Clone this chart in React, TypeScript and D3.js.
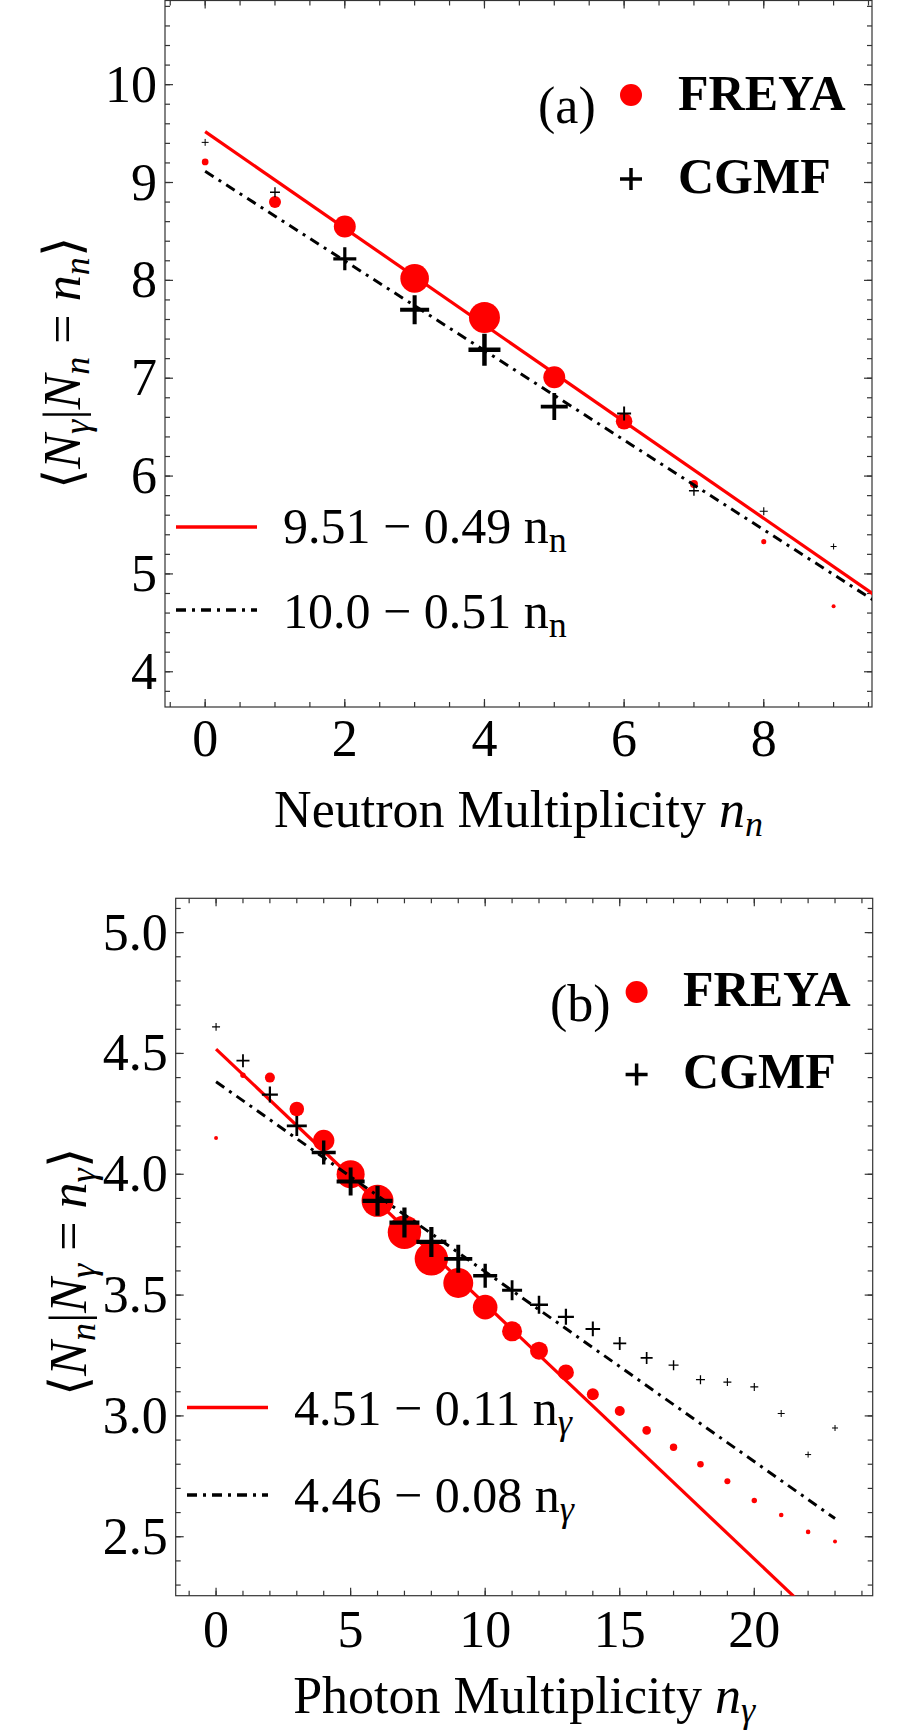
import React from "react";
import * as d3 from "d3";

// (a) mean photon multiplicity for events with a given neutron multiplicity
const neutronMult = [0, 1, 2, 3, 4, 5, 6, 7, 8, 9];
const freyaGammaGivenN = [9.21, 8.8, 8.55, 8.02, 7.62, 7.01, 6.56, 5.92, 5.33, 4.67];
const freyaNeutronProb = [1.4, 4.5, 15, 25.5, 30, 15, 8.6, 2, 0.8, 0.5];
const cgmfGammaGivenN = [9.41, 8.9, 8.22, 7.7, 7.29, 6.71, 6.64, 5.85, 5.64, 5.28];
const cgmfNeutronProb = [1.4, 2.9, 15.5, 24.7, 30, 21.4, 5.7, 2.9, 1.9, 1.05];

// (b) mean neutron multiplicity for events with a given photon multiplicity
const photonMult = [0, 1, 2, 3, 4, 5, 6, 7, 8, 9, 10, 11, 12, 13, 14, 15, 16, 17, 18, 19, 20, 21, 22, 23];
const freyaNGivenGamma = [
  4.15, 4.41, 4.4, 4.27, 4.14, 4.0, 3.89, 3.76, 3.65, 3.55, 3.45, 3.35,
  3.27, 3.18, 3.09, 3.02, 2.94, 2.87, 2.8, 2.73, 2.65, 2.59, 2.52, 2.48,
];
const freyaPhotonProb = [
  0.2, 0.37, 1.27, 2.7, 5.8, 10, 13, 14.2, 14.2, 11.4, 7.7, 5.1,
  4.1, 3.25, 1.83, 1.27, 0.94, 0.7, 0.55, 0.46, 0.37, 0.27, 0.27, 0.2,
];
const cgmfNGivenGamma = [
  4.61, 4.47, 4.33, 4.2, 4.09, 3.97, 3.89, 3.8, 3.72, 3.65, 3.58, 3.52,
  3.46, 3.41, 3.36, 3.3, 3.24, 3.21, 3.15, 3.14, 3.12, 3.01, 2.84, 2.95,
];
const cgmfPhotonProb = [
  1.0, 2.67, 4.04, 6.3, 9.1, 12.4, 14.2, 14.2, 14.2, 12.4, 9.1, 6.3,
  5.1, 4.04, 3.36, 2.67, 2.27, 1.58, 1.28, 1.0, 1.0, 0.77, 0.57, 0.57,
];

// straight-line fits as plotted: [intercept, slope]
const freyaFitA = [9.52, -0.494];
const cgmfFitA = [9.115, -0.458];
const freyaFitB = [4.518, -0.1055];
const cgmfFitB = [4.383, -0.0786];

const fitTextA = ["9.51 \u2212 0.49 n", "10.0 \u2212 0.51 n"];
const fitTextB = ["4.51 \u2212 0.11 n", "4.46 \u2212 0.08 n"];

// tick labels
const xTicksA = [0, 2, 4, 6, 8];
const yTicksA = [4, 5, 6, 7, 8, 9, 10];
const xTicksB = [0, 5, 10, 15, 20];
const yTicksB = [2.5, 3.0, 3.5, 4.0, 4.5, 5.0];

const SERIF = "'Liberation Serif', 'Times New Roman', Times, serif";
const RED = "#ff0000";
const FRAME = "#333";
const DASHDOT = "10,6,3,6";

type Pt = [number, number];

type PanelProps = {
  id: string;
  left: number;
  right: number;
  top: number;
  bottom: number;
  xDomain: [number, number];
  yDomain: [number, number];
  xTicks: number[];
  yTicks: number[];
  xMinorStep: number;
  yMinorStep: number;
  yFormat: (v: number) => string;
  xs: number[];
  dots: number[];
  dotWeight: number[];
  dotMaxR: number;
  crosses: number[];
  crossWeight: number[];
  crossMaxHalf: number;
  fits: number[][];
  fitEnd: number;
  fitText: string[];
  sub: string;
  subItalic: boolean;
  letter: string;
  legend: {
    letterX: number;
    letterY: number;
    markX: number;
    dotY: number;
    crossY: number;
    textX: number;
    freyaY: number;
    cgmfY: number;
    lineX1: number;
    lineX2: number;
    lineY: [number, number];
    fitTextX: number;
    fitTextY: [number, number];
  };
  xTitle: string;
  xTitleY: number;
  xLabelY: number;
  yTitle: [string, string];
  yTitleX: number;
  yTitleY: number;
};

function minorTicks([lo, hi]: [number, number], step: number) {
  const i0 = Math.ceil(lo / step - 1e-9);
  const i1 = Math.floor(hi / step + 1e-9);
  return d3.range(i0, i1 + 1).map((i) => +(i * step).toFixed(6));
}

function Cross({ cx, cy, h, sw }: { cx: number; cy: number; h: number; sw: number }) {
  return (
    <path
      d={`M${cx - h},${cy}H${cx + h}M${cx},${cy - h}V${cy + h}`}
      stroke="#000"
      strokeWidth={sw}
      fill="none"
    />
  );
}

function Panel(p: PanelProps) {
  const x = d3.scaleLinear().domain(p.xDomain).range([p.left, p.right]);
  const y = d3.scaleLinear().domain(p.yDomain).range([p.bottom, p.top]);
  const rDot = d3.scaleSqrt().domain([0, d3.max(p.dotWeight)!]).range([0, p.dotMaxR]);
  const rCross = d3
    .scaleSqrt()
    .domain([0, d3.max(p.crossWeight)!])
    .range([0, p.crossMaxHalf]);

  const line = d3
    .line<Pt>()
    .x((d) => x(d[0]))
    .y((d) => y(d[1]));
  const fitPath = (f: number[]) =>
    line([
      [0, f[0]],
      [p.fitEnd, f[0] + f[1] * p.fitEnd],
    ]) ?? "";

  const xMinor = minorTicks(p.xDomain, p.xMinorStep);
  const yMinor = minorTicks(p.yDomain, p.yMinorStep);
  const MAJ = 8;
  const MIN = 5;

  const lg = p.legend;
  const subSize = 36;

  return (
    <g fontFamily={SERIF}>
      <defs>
        <clipPath id={`clip-${p.id}`}>
          <rect x={p.left} y={p.top} width={p.right - p.left} height={p.bottom - p.top} />
        </clipPath>
      </defs>

      {/* frame ticks, pointing inward on all four sides */}
      <g stroke={FRAME} strokeWidth={1.2}>
        {xMinor.map((v) => (
          <g key={`xm${v}`}>
            <line x1={x(v)} x2={x(v)} y1={p.bottom} y2={p.bottom - MIN} />
            <line x1={x(v)} x2={x(v)} y1={p.top} y2={p.top + MIN} />
          </g>
        ))}
        {p.xTicks.map((v) => (
          <g key={`xM${v}`}>
            <line x1={x(v)} x2={x(v)} y1={p.bottom} y2={p.bottom - MAJ} />
            <line x1={x(v)} x2={x(v)} y1={p.top} y2={p.top + MAJ} />
          </g>
        ))}
        {yMinor.map((v) => (
          <g key={`ym${v}`}>
            <line x1={p.left} x2={p.left + MIN} y1={y(v)} y2={y(v)} />
            <line x1={p.right} x2={p.right - MIN} y1={y(v)} y2={y(v)} />
          </g>
        ))}
        {p.yTicks.map((v) => (
          <g key={`yM${v}`}>
            <line x1={p.left} x2={p.left + MAJ} y1={y(v)} y2={y(v)} />
            <line x1={p.right} x2={p.right - MAJ} y1={y(v)} y2={y(v)} />
          </g>
        ))}
        <rect
          x={p.left}
          y={p.top}
          width={p.right - p.left}
          height={p.bottom - p.top}
          fill="none"
        />
      </g>

      {/* tick labels */}
      <g fontSize={52} fill="#000">
        {p.xTicks.map((v) => (
          <text key={`xl${v}`} x={x(v)} y={p.xLabelY} textAnchor="middle">
            {v}
          </text>
        ))}
        {p.yTicks.map((v) => (
          <text key={`yl${v}`} x={p.left - 8} y={y(v) + 17} textAnchor="end">
            {p.yFormat(v)}
          </text>
        ))}
      </g>

      {/* fits and data */}
      <g clipPath={`url(#clip-${p.id})`}>
        <path d={fitPath(p.fits[0])} stroke={RED} strokeWidth={3.2} fill="none" />
        {p.xs.map((n, i) => (
          <circle key={`d${n}`} cx={x(n)} cy={y(p.dots[i])} r={rDot(p.dotWeight[i])} fill={RED} />
        ))}
        <path
          d={fitPath(p.fits[1])}
          stroke="#000"
          strokeWidth={3}
          strokeDasharray={DASHDOT}
          fill="none"
        />
        {p.xs.map((n, i) => {
          const h = rCross(p.crossWeight[i]);
          return (
            <Cross key={`c${n}`} cx={x(n)} cy={y(p.crosses[i])} h={h} sw={Math.max(1, h * 0.28)} />
          );
        })}
      </g>

      {/* series legend */}
      <text x={lg.letterX} y={lg.letterY} fontSize={52}>
        {p.letter}
      </text>
      <circle cx={lg.markX} cy={lg.dotY} r={11} fill={RED} />
      <Cross cx={lg.markX} cy={lg.crossY} h={11} sw={3.5} />
      <g fontSize={50} fontWeight="bold">
        <text x={lg.textX} y={lg.freyaY}>
          FREYA
        </text>
        <text x={lg.textX} y={lg.cgmfY}>
          CGMF
        </text>
      </g>

      {/* fit legend */}
      <line x1={lg.lineX1} x2={lg.lineX2} y1={lg.lineY[0]} y2={lg.lineY[0]} stroke={RED} strokeWidth={3.5} />
      <line
        x1={lg.lineX1}
        x2={lg.lineX2}
        y1={lg.lineY[1]}
        y2={lg.lineY[1]}
        stroke="#000"
        strokeWidth={3.5}
        strokeDasharray={DASHDOT}
      />
      {p.fitText.map((t, i) => (
        <text key={t} x={lg.fitTextX} y={lg.fitTextY[i]} fontSize={50}>
          {t}
          <tspan fontSize={subSize} dy={9} fontStyle={p.subItalic ? "italic" : "normal"}>
            {p.sub}
          </tspan>
        </text>
      ))}

      {/* axis titles */}
      <text x={(p.left + p.right) / 2} y={p.xTitleY} fontSize={52} textAnchor="middle">
        {p.xTitle}
        <tspan fontStyle="italic">n</tspan>
        <tspan fontStyle="italic" fontSize={subSize} dy={9}>
          {p.sub === "n" ? "n" : "\u03b3"}
        </tspan>
      </text>
      <text
        transform={`translate(${p.yTitleX},${p.yTitleY}) rotate(-90)`}
        fontSize={52}
        textAnchor="middle"
      >
        <tspan>{"\u27e8"}</tspan>
        <tspan fontStyle="italic">N</tspan>
        <tspan fontStyle="italic" fontSize={subSize} dy={9}>
          {p.yTitle[0]}
        </tspan>
        <tspan dy={-9}>|</tspan>
        <tspan fontStyle="italic">N</tspan>
        <tspan fontStyle="italic" fontSize={subSize} dy={9}>
          {p.yTitle[1]}
        </tspan>
        <tspan dy={-9}> = </tspan>
        <tspan fontStyle="italic">n</tspan>
        <tspan fontStyle="italic" fontSize={subSize} dy={9}>
          {p.yTitle[1]}
        </tspan>
        <tspan dy={-9}>{"\u27e9"}</tspan>
      </text>
    </g>
  );
}

export default function App() {
  return (
    <div style={{ position: "absolute", left: 0, top: 0 }}>
      <svg width={909} height={1734} style={{ display: "block", background: "#fff" }}>
        <Panel
          id="a"
          left={165}
          right={872}
          top={0.5}
          bottom={707}
          xDomain={[-0.575, 9.55]}
          yDomain={[3.64, 10.86]}
          xTicks={xTicksA}
          yTicks={yTicksA}
          xMinorStep={0.5}
          yMinorStep={0.2}
          yFormat={(v) => String(v)}
          xs={neutronMult}
          dots={freyaGammaGivenN}
          dotWeight={freyaNeutronProb}
          dotMaxR={15.5}
          crosses={cgmfGammaGivenN}
          crossWeight={cgmfNeutronProb}
          crossMaxHalf={16}
          fits={[freyaFitA, cgmfFitA]}
          fitEnd={10}
          fitText={fitTextA}
          sub="n"
          subItalic={false}
          letter="(a)"
          legend={{
            letterX: 538,
            letterY: 123,
            markX: 631,
            dotY: 95,
            crossY: 179,
            textX: 678,
            freyaY: 110,
            cgmfY: 193,
            lineX1: 176,
            lineX2: 257,
            lineY: [527, 610],
            fitTextX: 283,
            fitTextY: [543, 628],
          }}
          xTitle="Neutron Multiplicity "
          xTitleY={827}
          xLabelY={756}
          yTitle={["\u03b3", "n"]}
          yTitleX={80}
          yTitleY={363}
        />
        <Panel
          id="b"
          left={175.7}
          right={872.7}
          top={898.3}
          bottom={1595.7}
          xDomain={[-1.5, 24.4]}
          yDomain={[2.256, 5.142]}
          xTicks={xTicksB}
          yTicks={yTicksB}
          xMinorStep={1}
          yMinorStep={0.1}
          yFormat={d3.format(".1f")}
          xs={photonMult}
          dots={freyaNGivenGamma}
          dotWeight={freyaPhotonProb}
          dotMaxR={16.7}
          crosses={cgmfNGivenGamma}
          crossWeight={cgmfPhotonProb}
          crossMaxHalf={15}
          fits={[freyaFitB, cgmfFitB]}
          fitEnd={23}
          fitText={fitTextB}
          sub={"\u03b3"}
          subItalic={true}
          letter="(b)"
          legend={{
            letterX: 550,
            letterY: 1021,
            markX: 636.6,
            dotY: 992,
            crossY: 1074.5,
            textX: 683,
            freyaY: 1006,
            cgmfY: 1088,
            lineX1: 187,
            lineX2: 268,
            lineY: [1407.6, 1495],
            fitTextX: 294,
            fitTextY: [1425, 1512],
          }}
          xTitle="Photon Multiplicity "
          xTitleY={1713}
          xLabelY={1647}
          yTitle={["n", "\u03b3"]}
          yTitleX={86}
          yTitleY={1272}
        />
      </svg>
    </div>
  );
}
